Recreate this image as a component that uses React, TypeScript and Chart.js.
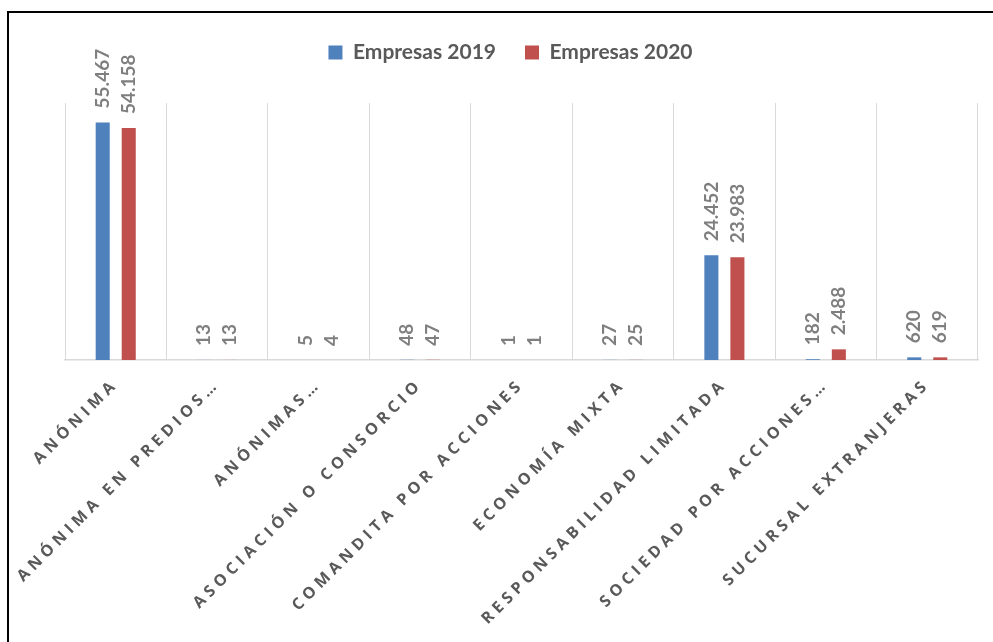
import React, { useEffect, useRef } from "react";
import { Chart, registerables } from "chart.js";

Chart.register(...registerables);

const categories = [
  "ANÓNIMA",
  "ANÓNIMA EN PREDIOS…",
  "ANÓNIMAS…",
  "ASOCIACIÓN O CONSORCIO",
  "COMANDITA POR ACCIONES",
  "ECONOMÍA MIXTA",
  "RESPONSABILIDAD LIMITADA",
  "SOCIEDAD POR ACCIONES…",
  "SUCURSAL EXTRANJERAS",
];

const empresas2019 = [55467, 13, 5, 48, 1, 27, 24452, 182, 620];
const empresas2020 = [54158, 13, 4, 47, 1, 25, 23983, 2488, 619];

const seriesNames = ["Empresas 2019", "Empresas 2020"];
const seriesColors = ["#4F81BD", "#C0504D"];

const fmt = (v: number) => String(v).replace(/\B(?=(\d{3})+(?!\d))/g, ".");

const labelPlugin = {
  id: "valueLabels",
  afterDatasetsDraw(chart: any) {
    const ctx = chart.ctx;
    chart.data.datasets.forEach((ds: any, di: number) => {
      const meta = chart.getDatasetMeta(di);
      meta.data.forEach((el: any, i: number) => {
        const v = ds.data[i];
        ctx.save();
        ctx.translate(el.x, el.y - 14);
        ctx.rotate(-Math.PI / 2);
        ctx.font = 'bold 19px Lato, "Open Sans", sans-serif';
        ctx.fillStyle = "#7F7F7F";
        ctx.textAlign = "left";
        ctx.textBaseline = "middle";
        ctx.fillText(fmt(v), 0, 0);
        ctx.restore();
      });
    });
    // letter spacing for the category labels drawn after this hook
    (ctx as any).letterSpacing = "4.5px";
  },
  afterDraw(chart: any) {
    (chart.ctx as any).letterSpacing = "0px";
  },
};

export default function App() {
  const ref = useRef<HTMLCanvasElement>(null);

  useEffect(() => {
    if (!ref.current) return;
    const chart = new Chart(ref.current, {
      type: "bar",
      data: {
        labels: categories,
        datasets: [
          {
            label: seriesNames[0],
            data: empresas2019,
            backgroundColor: seriesColors[0],
            borderWidth: 0,
            barPercentage: 0.54,
            categoryPercentage: 0.513,
          },
          {
            label: seriesNames[1],
            data: empresas2020,
            backgroundColor: seriesColors[1],
            borderWidth: 0,
            barPercentage: 0.54,
            categoryPercentage: 0.513,
          },
        ],
      },
      options: {
        responsive: false,
        animation: false,
        layout: { padding: { left: 34, right: 15, top: 0, bottom: 0 } },
        plugins: {
          tooltip: { enabled: false },
          legend: {
            position: "top",
            labels: {
              boxWidth: 14,
              boxHeight: 14,
              padding: 29,
              color: "#595959",
              font: { family: 'Lato, "Open Sans", sans-serif', size: 21, weight: "bold" },
            },
          },
          title: {
            display: true,
            text: " ",
            weight: 500,
            font: { size: 10, lineHeight: 1 },
            padding: { top: 0, bottom: 20 },
          } as any,
        },
        scales: {
          x: {
            grid: { color: "#D9D9D9", lineWidth: 1, drawTicks: false, offset: true },
            border: { color: "#D9D9D9", width: 1.5 },
            ticks: {
              z: 1,
              autoSkip: false,
              minRotation: 45,
              maxRotation: 45,
              padding: 15,
              color: "#595959",
              font: { family: '"Open Sans", sans-serif', size: 16, weight: "bold" },
            },
            afterFit: (s: any) => {
              s.height = 282;
            },
          },
          y: {
            min: 0,
            max: 60000,
            grid: { display: false },
            border: { display: false },
            ticks: { display: false },
            afterFit: (s: any) => {
              s.width = 22;
            },
          },
        },
      },
      plugins: [labelPlugin],
    });
    return () => chart.destroy();
  }, []);

  return (
    <div
      style={{
        position: "fixed",
        left: 7,
        top: 11,
        width: 986,
        height: 631,
        borderLeft: "2px solid #000",
        borderTop: "2px solid #000",
        boxSizing: "border-box",
        background: "#fff",
      }}
    >
      <canvas ref={ref} width={984} height={629} style={{ display: "block" }} />
    </div>
  );
}
